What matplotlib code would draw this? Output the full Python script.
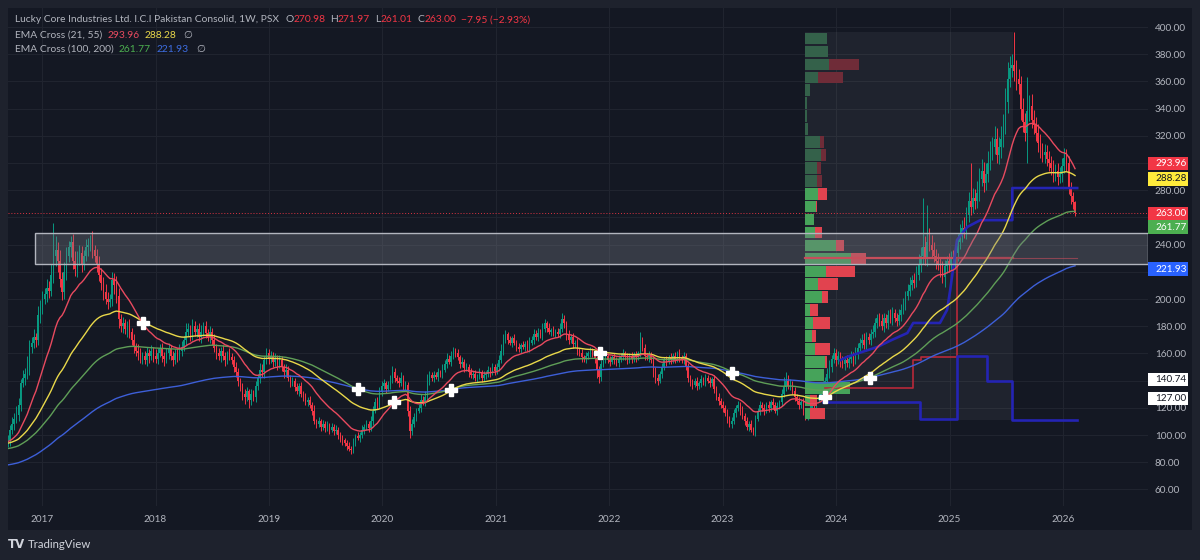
import numpy as np
import matplotlib
matplotlib.use('Agg')
import matplotlib.pyplot as plt
import matplotlib.dates as mdates
import matplotlib.transforms as mtransforms
from matplotlib.patches import Rectangle

# ---------------------------------------------------------------- data
start_date = '2016-09-12'          # first weekly bar (1W, PSX)
first_open = 94.0

close_1 = [96,104,108,112,115,122,138,142,145,150,165,168,172,170,188,194,200,204,208,206,218,232,236]
close_2 = [228,215,205,220,232,238,242,228,222,230,234,226,232,238,240,244,236,232,226,218]
close_3 = [212,205,200,198,200,214,210,202,185,180,182,178,180,176,170,165,162,160,157,158,155,160,158]
close_4 = [162,158,156,160,164,158,156,160,163,158,155,160,158,162,165,170,176,178,174,180,176,178,172,176,180,175,172,176]
close_5 = [170,164,160,158,162,158,155,160,157,155,150,146,140,135,130,128,132,126,130,128,136,142,148,146,155,160,156,158,154,156,152,155]
close_6 = [150,146,148,142,138,140,135,132,136,130,128,124,126,122,118,110,108,110,106,108,105,107,104,106,103,104,100,97,96,94,92,90,89,95,99,98,100]
close_7 = [104,106,108,105,110,118,124,122,132,136,138,134,137,140,146,142,140,138,142,136,137,118,103,108,113,118,120,126,124,128,140,144,142]
close_8 = [144,143,146,145,148,152,156,154,158,162,160,157,152,154,149,150,146,144,145,142,143,146,142,144,145,148,146,150,147,150,155,162,170,174,170,168,171,168,165,163,166]
close_9 = [165,167,164,168,170,174,172,175,173,178,182,179,176,177,175,176,174,178,185,182,174,170,172,167,168,162,160,157,156,158,160,162,159,156,148,143]
close_10 = [152,156,158,155,154,157,155,153,156,158,160,157,155,158,156,159,157,160,170,164,158,157,159,155,148,142,140,145,150,155,154,157,155,158,156,160,157,155,158,150,142,138,137,140,136,138,141,139,142,140,138,141,134,128,125,122,120,116,112,108,110]
close_11 = [116,120,122,118,114,110,106,108,104,102,112,118,122,120,118,122,120,124,122,118,121,124,130,135,140,136,138,132,128,125,122,124]
close_12 = [118,114,116,120,124,122,126,128,132,136,140,145,150,156,160,155,158,154,152,155,153,156,158,155,160,164,168,170,166,172,170,174,176,182,186,184,180,186,182,188,185,190,186,184,188,192,196,202,206,210,214,212,218,225]
close_13 = [232,238,230,242,240,236,232,228,226,222,216,224,228,226,230,227,234,242,248,252,250,262,272,268,274,272,278,288,294,285,292,300,308,312,318,306,312,318,328,345,362,370,372,368]
close_14 = [362,358,340,330,322,338,342,332,328,322,315,310,306,308,303,300,296,292,294,290,292,298,304,300,282,276,271,263]

# upper / lower wick length beyond the candle body
up_1 = [4,3,5,4,6,5,3,6,4,8,5,4,6,3,7,5,6,4,7,5,8,24,10]
up_2 = [6,8,5,7,6,5,4,6,7,5,6,5,4,6,5,3,6,4,5,6]
up_3 = [5,4,6,5,4,6,5,7,6,4,5,3,4,5,3,4,3,5,4,3,4,5,3]
up_4 = [4,3,5,4,3,4,3,4,5,3,4,3,4,5,4,3,6,4,3,5,4,3,4,5,3,4,3,4]
up_5 = [3,4,3,4,3,4,3,2,4,3,3,4,3,2,3,4,3,2,4,3,4,3,5,4,3,4,3,4,3,4,3,4]
up_6 = [3,2,4,3,2,3,2,3,2,3,2,3,2,3,2,4,2,3,2,3,2,3,2,3,2,3,2,2,3,2,2,3,2,3,2,3,2]
up_7 = [3,2,3,2,4,3,3,4,3,4,3,2,3,4,5,3,2,3,4,2,3,2,3,4,3,2,3,4,3,4,5,3,2]
up_8 = [3,2,3,2,4,3,4,3,4,3,2,3,2,3,2,3,2,3,2,3,2,3,2,3,2,3,2,3,2,3,4,5,4,3,2,3,2,3,2,3,2]
up_9 = [3,2,3,4,3,4,3,4,3,4,3,2,3,2,3,2,3,4,5,3,2,3,2,3,2,3,2,3,2,3,2,3,2,3,2,3]
up_10 = [3,2,3,2,3,2,3,2,3,2,3,2,3,2,3,2,3,2,6,2,3,2,3,2,3,2,3,2,3,2,3,2,3,2,3,2,3,2,3,2,3,2,3,2,3,2,3,2,3,2,3,2,3,2,3,2,3,2,3,2,3]
up_11 = [3,2,3,2,3,2,3,2,3,2,3,2,3,2,3,2,3,2,3,2,3,2,4,8,6,4,3,2,3,2,3,2]
up_12 = [3,2,3,2,3,2,3,2,3,4,3,4,5,3,4,3,4,3,4,3,4,3,4,3,5,4,3,4,5,4,3,4,5,4,3,4,5,4,3,4,5,4,3,4,5,4,5,4,5,6,4,5,6,8]
up_13 = [6,36,8,27,10,7,6,5,6,5,6,5,4,6,5,6,5,6,7,6,8,6,7,28,8,7,9,8,9,7,8,9,8,7,9,8,7,9,8,10,12,9,8,24]
up_14 = [8,7,6,8,7,25,8,9,7,6,7,6,5,6,5,6,5,6,5,6,5,6,7,6,5,4,3,1]

dn_1 = [3,4,3,4,3,5,4,3,5,4,6,5,4,5,4,6,5,4,6,5,4,6,8]
dn_2 = [8,6,6,5,6,5,7,6,5,6,5,6,5,4,6,5,6,5,6,5]
dn_3 = [5,6,4,5,4,5,6,5,6,4,5,4,6,5,4,5,4,5,4,5,3,4,5]
dn_4 = [3,4,3,4,3,4,5,3,4,3,4,3,4,3,4,3,4,3,5,4,3,4,3,4,3,4,3,4]
dn_5 = [4,3,4,3,4,3,4,3,2,3,4,3,4,3,4,5,3,6,4,3,4,3,4,3,4,3,4,3,4,3,4,3]
dn_6 = [3,4,3,2,3,2,3,2,3,2,3,2,3,2,3,2,3,2,3,2,3,2,3,2,3,2,3,2,3,2,3,2,3,2,3,2,3]
dn_7 = [2,3,2,3,2,3,2,3,2,3,2,3,2,3,2,3,2,3,2,3,3,4,5,3,2,3,2,3,2,3,2,3,2]
dn_8 = [3,2,3,2,3,2,3,2,3,2,3,2,3,2,3,2,3,2,3,2,3,2,3,2,3,2,3,2,3,2,3,2,3,2,3,2,3,2,3,2,3]
dn_9 = [2,3,2,3,2,3,2,3,2,3,2,3,2,3,2,3,2,3,2,3,4,3,2,3,2,3,2,3,2,3,2,3,2,3,6,5]
dn_10 = [3,2,3,2,3,2,3,2,3,2,3,2,3,2,3,2,3,2,3,2,3,2,3,2,5,4,3,2,3,2,3,2,3,2,3,2,3,2,3,2,3,2,3,2,3,2,3,2,3,2,3,2,3,2,3,2,3,2,3,2,3]
dn_11 = [2,3,2,3,2,3,2,3,2,2,3,2,3,2,3,2,3,2,3,2,3,2,3,2,3,2,3,2,3,2,3,2]
dn_12 = [3,3,3,2,3,2,3,2,3,2,3,4,3,4,3,4,3,4,3,4,3,4,3,4,3,4,3,4,3,4,3,4,3,4,3,4,3,4,3,4,3,4,3,4,3,4,3,4,3,4,3,4,3,4]
dn_13 = [5,6,5,6,5,6,5,6,5,6,4,7,5,6,5,6,5,6,5,6,5,6,5,6,5,6,5,6,5,6,5,6,5,6,5,6,7,8,6,7,8,6,7,8]
dn_14 = [8,7,8,7,6,22,7,6,7,6,7,6,5,6,5,6,5,6,5,6,5,6,5,6,5,6,5,2]

# EMA values at the first visible bar (history before the chart)
ema_seed = {21: 95.0, 55: 94.0, 100: 90.0, 200: 78.0}

# header values
symbol_title = 'Lucky Core Industries Ltd. I.C.I Pakistan Consolid, 1W, PSX'
ohlc_vals = ['270.98', '271.97', '261.01', '263.00']
change_txt = '−7.95 (−2.93%)'
ema_cross_1 = ('EMA Cross (21, 55)', '293.96', '288.28')
ema_cross_2 = ('EMA Cross (100, 200)', '261.77', '221.93')

# EMA cross markers
cross_dates = ['2017-11-21', '2019-10-14', '2020-02-09', '2020-08-08',
               '2021-12-02', '2023-01-31', '2023-11-26', '2024-04-20']
cross_vals = [182.4, 133.6, 124.5, 133.0, 160.0, 145.4, 128.2, 141.7]

# drawn support zone
zone_start = '2016-12-10'
zone_top, zone_bottom = 248.3, 225.5

# fixed range volume profile
vp_start, vp_end = '2023-09-23', '2025-07-25'
vp_high, vp_low = 396.3, 111.0
# rows from top to bottom (relative volume)
vp_up = [21.7, 22.7, 24.4, 12.7, 4.7, 2.4, 2.4, 3.4, 14.7, 15.7, 11.7, 11.7, 13.4, 11.0, 8.7,
         9.7, 30.7, 45.7, 20.7, 12.7, 16.7, 5.0, 8.4, 6.7, 10.0, 19.7, 18.7, 44.7, 4.7, 4.7]
vp_down = [0, 0, 29.3, 25.7, 0, 0, 0, 0, 4.7, 5.0, 4.0, 5.7, 8.3, 0.7, 0,
           7.7, 8.3, 15.3, 29.0, 20.7, 6.0, 7.7, 16.3, 4.3, 15.0, 2.0, 0, 0, 7.0, 15.0]
vp_value_area_rows = (12, 30)   # rows [12, 30) are inside the value area
poc_price = 230.0

dpoc_dates = ['2023-11-26', '2024-09-06', '2024-09-06', '2024-10-01', '2024-10-01',
              '2025-01-25', '2025-01-25', '2025-07-25']
dpoc_vals = [134.5, 134.5, 155.0, 155.0, 157.5, 157.5, 230.0, 230.0]
dval_dates = ['2023-11-20', '2024-09-28', '2024-09-28', '2025-01-25', '2025-01-25',
              '2025-05-03', '2025-05-03', '2025-07-22', '2025-07-22', '2026-02-16']
dval_vals = [124.5, 124.5, 112.0, 112.0, 158.0, 158.0, 140.0, 140.0, 111.0, 111.0]
dvah_dates = ['2024-01-15', '2024-02-05', '2024-05-13', '2024-06-30', '2024-08-18',
              '2024-09-06', '2024-12-01', '2024-12-24', '2025-01-03', '2025-01-25',
              '2025-02-27', '2025-04-10', '2025-07-22', '2025-07-22', '2026-02-16']
dvah_vals = [155, 157.4, 164.7, 170, 175, 182.4, 182.4, 192, 206.6, 243.4,
             253, 258, 258, 281.6, 281.6]
poc_ext_end = '2026-02-16'

# right-hand price tags
tag_vals = [293.96, 288.28, 263.00, 261.77, 221.93, 140.74, 127.00]
y_ticks = list(range(60, 401, 20))
hidden_ticks = [300, 260, 220, 140]      # scale labels hidden behind the tags
year_ticks = list(range(2017, 2027))

# ---------------------------------------------------------------- series
closes = np.array(close_1 + close_2 + close_3 + close_4 + close_5 + close_6 + close_7 +
                  close_8 + close_9 + close_10 + close_11 + close_12 + close_13 + close_14, float)
ups = np.array(up_1 + up_2 + up_3 + up_4 + up_5 + up_6 + up_7 + up_8 + up_9 + up_10 +
               up_11 + up_12 + up_13 + up_14, float)
dns = np.array(dn_1 + dn_2 + dn_3 + dn_4 + dn_5 + dn_6 + dn_7 + dn_8 + dn_9 + dn_10 +
               dn_11 + dn_12 + dn_13 + dn_14, float)
n = len(closes)
opens = np.concatenate([[first_open], closes[:-1]])
highs = np.maximum(opens, closes) + ups
lows = np.minimum(opens, closes) - dns
dates = np.datetime64(start_date) + np.arange(n) * np.timedelta64(7, 'D')
xd = mdates.date2num(dates)


def ema(vals, span, seed):
    a = 2.0 / (span + 1)
    out = np.empty_like(vals)
    prev = seed
    for k, v in enumerate(vals):
        prev = seed if k == 0 else prev + a * (v - prev)
        out[k] = prev
    return out


def dn_(lst):
    return mdates.date2num(np.array(lst, dtype='datetime64[D]'))


# ---------------------------------------------------------------- style
W, H = 1200, 560
BG_OUT = '#1e222d'
BG = '#141823'
GRID = '#20242f'
TXT = '#b2b5be'
UP = '#089981'
DOWN = '#f23645'
FONT = ['Lato', 'DejaVu Sans']
FS = 7.2
plt.rcParams['font.family'] = FONT

fig = plt.figure(figsize=(W / 100, H / 100), dpi=100, facecolor=BG_OUT)
fig.patches.append(Rectangle((8 / W, 1 - 530 / H), (1192 - 8) / W, (530 - 8) / H,
                             transform=fig.transFigure, facecolor=BG, edgecolor='none', zorder=-10))
L, R, T, B = 8, 1148, 8, 506
ax = fig.add_axes([L / W, 1 - B / H, (R - L) / W, (B - T) / H], facecolor=BG)
ax.set_zorder(1)

# axis range (pixel-calibrated to the screenshot)
x_left = mdates.date2num(np.datetime64('2016-09-13'))
x_right = mdates.date2num(np.datetime64('2026-10-02'))
ax.set_xlim(x_left, x_right)
ax.set_ylim(47.8, 414.0)

ax.set_axisbelow(True)
ax.grid(True, color=GRID, lw=0.8)
ax.set_yticks(y_ticks)
ax.set_yticklabels(['' if v in hidden_ticks else f'{v:.2f}' for v in y_ticks])
ax.yaxis.tick_right()
ax.set_xticks(dn_([f'{y}-01-01' for y in year_ticks]))
ax.set_xticklabels([str(y) for y in year_ticks])
ax.tick_params(axis='y', length=0, pad=5.0, labelsize=FS, labelcolor=TXT)
ax.tick_params(axis='x', length=0, pad=6.5, labelsize=FS, labelcolor=TXT)
for s in ax.spines.values():
    s.set_visible(False)

# volume profile box background
bx0, bx1 = dn_([vp_start, vp_end])
ax.add_patch(Rectangle((bx0, vp_low), bx1 - bx0, vp_high - vp_low,
                       facecolor='white', alpha=0.05, edgecolor='none', zorder=1))

# candles
is_up = closes >= opens
cols = np.where(is_up, UP, DOWN)
ax.vlines(xd, lows, highs, colors=cols, lw=0.7, zorder=3)
body_lo = np.minimum(opens, closes)
body_h = np.maximum(np.abs(closes - opens), 0.4)
ax.bar(xd, body_h, bottom=body_lo, width=4.6, color=cols, edgecolor='none', zorder=3)

# volume profile rows
nrows = len(vp_up)
row_h = (vp_high - vp_low) / nrows
tot = np.array(vp_up) + np.array(vp_down)
scale = 0.293 * (bx1 - bx0) / tot.max()
for r in range(nrows):
    y_top = vp_high - r * row_h
    yc = y_top - row_h / 2
    in_va = vp_value_area_rows[0] <= r < vp_value_area_rows[1]
    gcol = '#46a35a' if in_va else '#34614a'
    rcol = '#e1434f' if in_va else '#6f2c38'
    gw = vp_up[r] * scale
    rw = vp_down[r] * scale
    ax.barh(yc, gw, left=bx0, height=row_h * 0.9, color=gcol, edgecolor='none', zorder=4)
    if rw > 0:
        ax.barh(yc, rw, left=bx0 + gw, height=row_h * 0.9, color=rcol, edgecolor='none', zorder=4)

# POC line + extension
ax.plot([bx0, bx1], [poc_price, poc_price], color='#f23645', lw=1.6, zorder=5)
ax.plot([bx1, dn_([poc_ext_end])[0]], [poc_price, poc_price], color='#f23645', lw=0.8, alpha=0.6, zorder=5)
# developing POC / VA
ax.plot(dn_(dpoc_dates), dpoc_vals, color='#b8293a', lw=1.2, zorder=5)
ax.plot(dn_(dval_dates), dval_vals, color='#2424b4', lw=1.9, zorder=5)
ax.plot(dn_(dvah_dates), dvah_vals, color='#2424b4', lw=1.9, zorder=5)

# EMAs
ema_cols = {21: '#e84a5f', 55: '#e9d84a', 100: '#5f9e57', 200: '#3d5fd8'}
for span in (200, 100, 55, 21):
    ax.plot(xd, ema(closes, span, ema_seed[span]), color=ema_cols[span], lw=1.0, zorder=6)

# cross markers
ax.plot(dn_(cross_dates), cross_vals, linestyle='none', marker='P', markersize=8,
        markerfacecolor='white', markeredgecolor='white', zorder=8)

# zone rectangle
zx0 = dn_([zone_start])[0]
ax.add_patch(Rectangle((zx0, zone_bottom), x_right - zx0, zone_top - zone_bottom,
                       facecolor='#787b86', alpha=0.35, edgecolor='none', zorder=7))
ax.add_patch(Rectangle((zx0, zone_bottom), x_right - zx0, zone_top - zone_bottom,
                       facecolor='none', edgecolor='#b2b5be', lw=1.0, zorder=7))

# last price line
ax.axhline(closes[-1], color='#f23645', lw=0.7, ls=(0, (1, 2)), alpha=0.9, zorder=5)

# right price tags
tag_style = [('#f23645', 'white', 7.5), ('#ffeb3b', '#131722', 0), ('#f23645', 'white', 0),
             ('#4caf50', 'white', -12), ('#2962ff', 'white', 0), ('#ffffff', '#131722', 0),
             ('#ffffff', '#131722', 0)]
base = ax.get_yaxis_transform()
px_per_unit = (B - T) / (414.0 - 47.8)
for v, (bg, fg, dy) in zip(tag_vals, tag_style):
    tr = mtransforms.offset_copy(base, fig=fig, x=0, y=dy, units='dots')
    hh = 13.5 / px_per_unit
    ax.add_patch(Rectangle((1.0, v - hh / 2), 40 / (R - L), hh, transform=tr,
                           facecolor=bg, edgecolor='none', clip_on=False, zorder=20))
    ax.text(1.0 + 7 / (R - L), v, f'{v:.2f}', transform=tr, color=fg, fontsize=FS,
            va='center', ha='left', zorder=21, clip_on=False)

# header legend
renderer = fig.canvas.get_renderer()


def chain(x0, ypx, parts):
    x = x0
    for s, col, gap in parts:
        t = fig.text(x / W, 1 - ypx / H, s, color=col, fontsize=FS + 0.2, va='center', ha='left')
        x += t.get_window_extent(renderer).width + gap


chain(15, 20, [(symbol_title, TXT, 6), ('O', TXT, 0), (ohlc_vals[0], DOWN, 5),
               ('H', TXT, 0), (ohlc_vals[1], DOWN, 5), ('L', TXT, 0), (ohlc_vals[2], DOWN, 5),
               ('C', TXT, 0), (ohlc_vals[3], DOWN, 5), (change_txt, DOWN, 0)])
chain(15, 35, [(ema_cross_1[0], TXT, 5), (ema_cross_1[1], '#e84a5f', 5),
               (ema_cross_1[2], '#e9d84a', 7), ('∅', TXT, 0)])
chain(15, 49, [(ema_cross_2[0], TXT, 5), (ema_cross_2[1], '#4caf50', 6),
               (ema_cross_2[2], '#3d6de0', 7), ('∅', TXT, 0)])

# footer logo
fig.text(8 / W, 1 - 545 / H, 'TV', color='#d1d4dc', fontsize=8.5, fontweight='heavy',
         va='center', ha='left', family='DejaVu Sans')
fig.text(28 / W, 1 - 545 / H, 'TradingView', color='#d1d4dc', fontsize=8.2,
         va='center', ha='left')

fig.savefig('out.png', dpi=100, facecolor=BG_OUT)
